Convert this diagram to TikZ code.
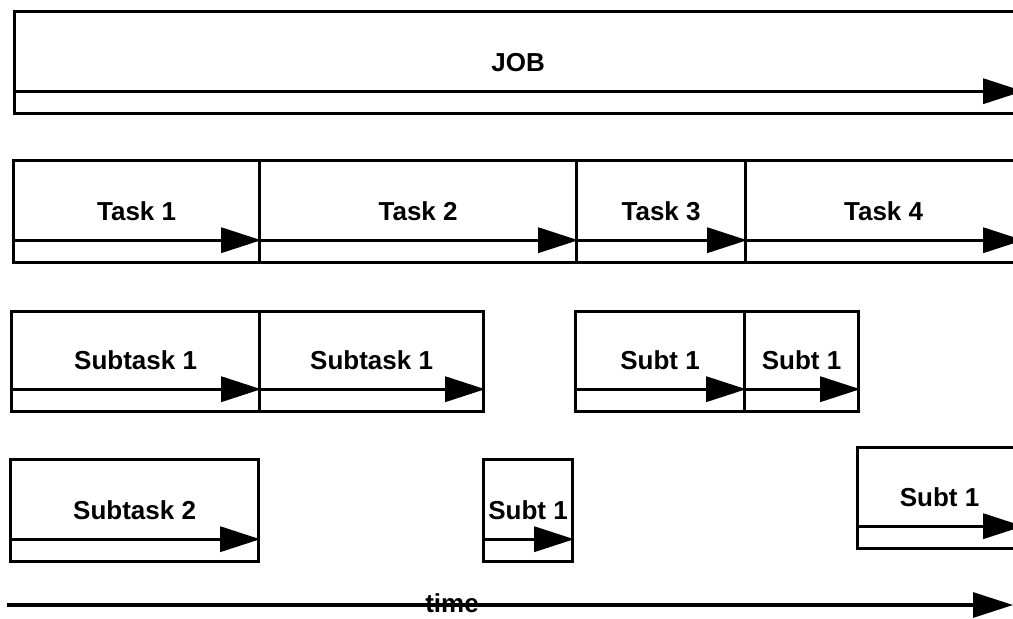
\documentclass[tikz,border=0pt]{standalone}
\usepackage{fontspec}
\setmainfont{Liberation Sans}
\usetikzlibrary{arrows.meta}
\begin{document}
\begin{tikzpicture}[x=1pt,y=1pt,
  bar/.style={draw, line width=3.2pt, rectangle, inner sep=0pt, anchor=north west},
  flow/.style={line width=3.2pt, -{Triangle[length=40pt,width=25pt]}},
  lbl/.style={font=\fontsize{26}{31}\selectfont\bfseries, inner sep=0pt}]
\useasboundingbox (0,0) rectangle (1013,-619);

% whole job
\node[bar, minimum width=1007pt, minimum height=102pt] (job) at (13,-10) {};
% tasks
\node[bar, minimum width=246pt, minimum height=102pt] (t1) at (12,-159) {};
\node[bar, minimum width=317pt, minimum height=102pt] (t2) at (258,-159) {};
\node[bar, minimum width=169pt, minimum height=102pt] (t3) at (575,-159) {};
\node[bar, minimum width=276pt, minimum height=102pt] (t4) at (744,-159) {};
% first level of subtasks
\node[bar, minimum width=248pt, minimum height=100pt] (s1) at (10,-310) {};
\node[bar, minimum width=224pt, minimum height=100pt] (s2) at (258,-310) {};
\node[bar, minimum width=169pt, minimum height=100pt] (s3) at (574,-310) {};
\node[bar, minimum width=114pt, minimum height=100pt] (s4) at (743,-310) {};
% second level of subtasks
\node[bar, minimum width=248pt, minimum height=102pt] (u1) at (9,-458) {};
\node[bar, minimum width=89pt, minimum height=102pt] (u2) at (482,-458) {};
\node[bar, minimum width=164pt, minimum height=101pt] (u3) at (856,-446) {};

% progress arrows inside each bar
\foreach \b in {job,t1,t2,t3,t4,s1,s2,s3,s4,u1,u2,u3}
  \draw[flow] ([yshift=24pt]\b.south west) -- ([yshift=24pt]\b.south east);

% labels
\node[lbl] at ([yshift=53pt]job.south) {JOB};
\node[lbl] at ([yshift=53pt]t1.south) {Task 1};
\node[lbl] at ([yshift=53pt]t2.south) {Task 2};
\node[lbl] at ([yshift=53pt]t3.south) {Task 3};
\node[lbl] at ([yshift=53pt]t4.south) {Task 4};
\node[lbl] at ([yshift=53pt]s1.south) {Subtask 1};
\node[lbl] at ([yshift=53pt]s2.south) {Subtask 1};
\node[lbl] at ([yshift=53pt]s3.south) {Subt 1};
\node[lbl] at ([yshift=53pt]s4.south) {Subt 1};
\node[lbl] at ([yshift=53pt]u1.south) {Subtask 2};
\node[lbl] at ([yshift=53pt]u2.south) {Subt 1};
\node[lbl] at ([yshift=53pt]u3.south) {Subt 1};

% time axis
\coordinate (t0) at (7,-605);
\coordinate (tend) at (1013,-605);
\node[lbl] (time) at (452,-603) {time};
\draw[flow] (t0) -- (tend);
\end{tikzpicture}
\end{document}
